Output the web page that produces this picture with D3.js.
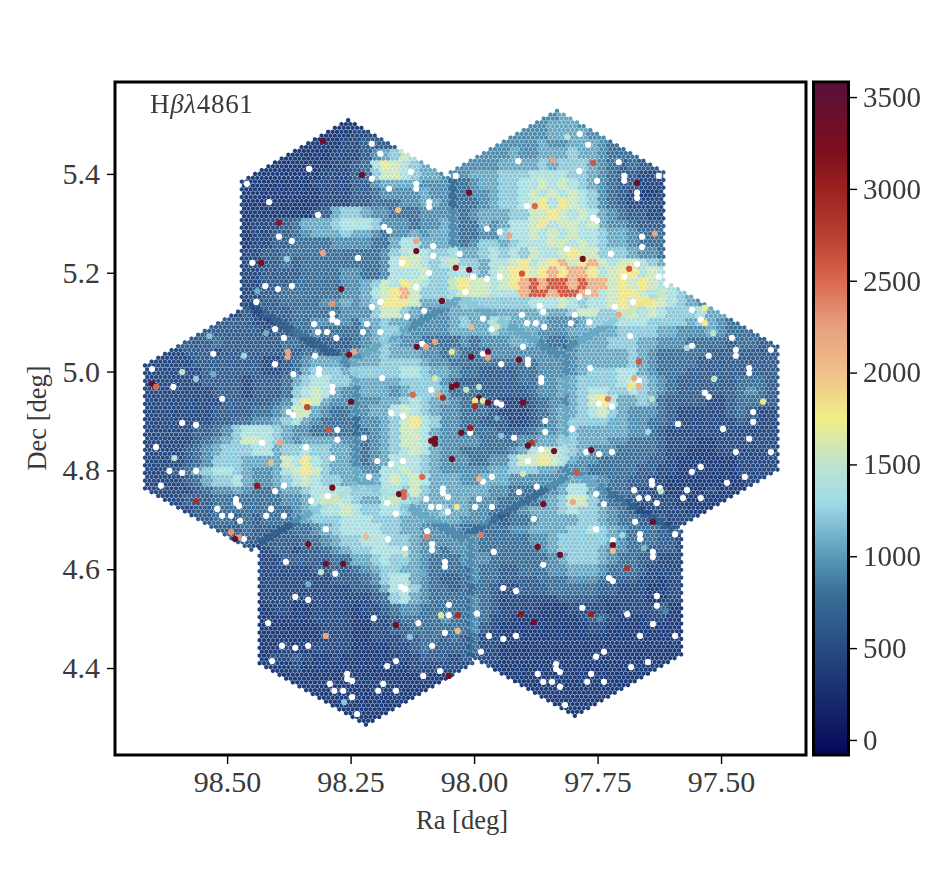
<!DOCTYPE html>
<html>
<head>
<meta charset="utf-8">
<script src="https://d3js.org/d3.v7.min.js"></script>
<style>
  html, body { margin: 0; padding: 0; background: #fff; overflow: hidden; }
  text { font-family: "Liberation Serif", serif; fill: #3a3a3a; }
</style>
</head>
<body>
<svg id="chart" width="942" height="892"></svg>
<script>
// Tile pointings of the mosaic (deg)
var tileRa = [98.255, 97.832, 98.451, 98.026, 97.601, 98.219, 97.796];
var tileDec = [5.260, 5.279, 4.888, 4.906, 4.926, 4.534, 4.552];

// Flux on a 0.02 deg grid, one digit per cell (see levelValues)
var gridRaStart = 98.68;
var gridDecStart = 5.52;
var gridStep = 0.02;
var levelValues = [370, 490, 640, 790, 930, 1060, 1210, 1370, 1560, 1800, 2150, 2600];
var fluxRows = [
".......... .......... .......... .......... ..45",
".......... .......... 000....... .......... 445554",
".......... ........00 00111..... ........44 44555544",
".......... .......000 0112222... ......4444 4544555433",
".......... .....00000 111245687. ....444454 4555655433 3",
".......... ...0000000 1123798765 ...4444555 5656665432 32",
".......... ..00000001 1123688765 5444555666 7777665432 2112",
".......... 1000000011 1122455554 4433455667 7878765432 2111",
".......... 1000000001 1122344445 4433445667 8787876432 1001",
".......... 1000000001 1122333445 5433345667 8979876432 1111",
".......... 1000000012 5665443334 4443455566 8898787543 2211",
".......... 1011123555 6777644434 4543354577 8978878544 3222",
".......... 1011223455 5655434454 5543344677 8787877655 4333",
".......... 1011223333 4444335775 5543466567 7788787655 4333",
".......... 1112233333 3333346787 6675567676 8778988666 5443",
".......... 1112232333 3333347987 6786657789 789a89a878 8765",
".......... 1112222333 3443347778 6677657899 89a9aa9789 9787",
".......... 1112223333 3445687987 668988789a babbabaa89 898776",
".......... 1112233333 3445789a86 667888777a bbabbaa789 9878765",
".......... 1122233334 4545699985 5556666666 7778767789 89987654",
".......... 1212223333 3444688654 4455555555 5655688668 878766675",
".........2 2211223344 4435565544 4456557655 5544456667 7766665654 3",
".......222 2221223343 3334566544 4455556555 5444555556 6665544454 333",
".....22232 2222233222 2234565443 3334344455 5433455566 6554443333 23322",
"...1122212 2222222332 2345565554 4343334444 4444455555 6543333322 22222",
"..11112222 2221123455 5455566665 4433333333 3444455555 6543333222 22222",
".111111222 2221123566 6566666776 5543322223 3444456667 7543332222 22222",
".111111222 2122235677 6655555666 6432222223 3445566667 8654322222 23332",
".111111122 2122236787 5445554566 6533322222 3445567766 7654322222 23432",
".111111112 2222347985 4444455676 5543332111 2344568975 5653222211 23332",
".111111122 2233458854 3344557876 5443332111 2345567865 4443211111 23211",
".111111122 3344567543 3334456897 6443322211 2345666655 4433211111 12111",
".111112234 6777654433 3333456887 5443333222 3445655555 4432111111 11111",
".111112345 6887654555 5443456887 5444433334 4556655544 3332111001 11111",
".111123456 6677566766 5543456787 5443333345 7887654443 3332110001 11111",
".111123466 6555587976 5543457776 5444334468 8987544333 3322100000 01111",
".111235677 6544578986 5554477876 5444445566 6554443333 3221100000 01111",
".111123566 7544567876 6555578787 5554455544 4444555433 2211000000 0011",
".111112344 5433455677 7766677686 5555554433 3345775433 2111000010 00",
"..11122233 3333344578 8765578765 5555444333 3456886433 2111100000 0",
"....112233 3333334567 7876677655 5655443334 5556766543 211111000.",
"......2233 2323334566 6777666555 5554443233 4555566543 3222111",
"........22 2322223345 6777766554 4443333344 5555667654 333222",
".........2 2222222334 5667776654 4444433333 4456666654 333221",
".......... 2211221223 4566777654 4344433333 3456666544 332221",
".......... ..11122222 3355676654 3334443333 3345666543 322111",
".......... ..11111122 2234566554 3333433223 3344555433 321111",
".......... ..11111111 2223467754 3223433222 2333444322 211011",
".......... ..01111111 1122357864 3323332112 2233333221 110011",
".......... ..01110111 1111236754 3333432111 1112222111 110011",
".......... ..00110011 1101123443 3333432111 1000111101 111200",
".......... ..00000011 1100112333 3433431100 0000012210 001100",
".......... ..00000001 1100112233 3333421000 0000001100 000000",
".......... ..00000001 1100111223 3232311000 0000000000 000000",
".......... ..00010011 1100001123 2222311000 0000000000 000000",
".......... ..00112100 1000000112 2212211000 0000000000 000000",
".......... ...0001000 0000000011 1111..0000 0000000000 000",
".......... .....00000 0000000000 00.....000 0000000000 00",
".......... .......000 0000000000 0........0 0000000000",
".......... ........00 00000000.. .......... .0000000",
".......... .......... 0000000... .......... ...0000",
".......... .......... ..000..... .......... ....0",
".......... .......... ...0"
];

// Empty spaxels [ra, dec]
var holes = [
[97.786,5.481],[97.769,5.459],[97.911,5.426],[97.707,5.424],[97.787,5.406],[97.751,5.386],[97.696,5.396],[97.696,5.386],[97.626,5.396],[97.670,5.362],[97.670,5.351],[97.893,5.335],[97.759,5.311],[97.751,5.305],[97.974,5.289],[97.948,5.283],[97.660,5.273],[97.660,5.252],[97.812,5.248],[97.723,5.238],[97.670,5.218],[97.948,5.192],[97.974,5.188],[97.696,5.192],[97.626,5.192],[97.769,5.161],[97.787,5.151],[97.867,5.133],[97.860,5.121],[97.678,5.141],[97.715,5.131],[97.903,5.115],[97.796,5.115],[97.559,5.125],
[98.207,5.461],[98.190,5.441],[98.334,5.410],[98.460,5.380],[98.415,5.343],[98.207,5.390],[98.172,5.370],[98.128,5.404],[98.117,5.380],[98.117,5.370],[98.091,5.343],[98.091,5.333],[98.037,5.396],[98.316,5.317],[98.182,5.293],[98.172,5.285],[98.395,5.273],[98.369,5.264],[98.083,5.254],[98.083,5.234],[98.029,5.238],[98.235,5.230],[98.146,5.220],[98.449,5.220],[98.091,5.200],[98.002,5.192],[98.423,5.173],[98.397,5.167],[98.369,5.173],[98.117,5.171],[98.018,5.161],[98.441,5.141],[98.190,5.141],[98.207,5.131],[98.101,5.123],[98.287,5.117],[98.136,5.111],
[98.287,5.105],[98.277,5.100],[98.324,5.096],[98.403,5.086],[98.385,5.068],[98.316,5.080],[98.298,5.080],[98.279,5.068],[98.528,5.036],[98.322,5.032],[98.652,5.005],[98.403,5.015],[98.366,4.995],[98.314,5.005],[98.314,4.995],[98.609,4.969],[98.287,4.969],[98.287,4.959],[98.510,4.945],[98.375,4.918],[98.366,4.912],[98.591,4.896],[98.563,4.892],[98.277,4.882],[98.277,4.862],[98.429,4.856],[98.644,4.847],[98.340,4.847],[98.287,4.825],[98.617,4.799],[98.591,4.795],[98.563,4.799],[98.634,4.769],[98.385,4.769],[98.403,4.758],[98.296,4.748],[98.330,4.738],[98.482,4.742],[98.482,4.734],[98.476,4.728],[98.520,4.722],[98.411,4.722],[98.510,4.708],[98.492,4.708],[98.421,4.708],[98.385,4.708],[98.474,4.698],[98.300,4.681],
[98.217,5.096],[98.225,5.080],[98.190,5.080],[97.982,5.107],[97.964,5.086],[97.893,5.098],[97.875,5.098],[97.858,5.090],[97.804,5.098],[97.901,5.050],[98.105,5.056],[97.982,5.036],[97.945,5.015],[97.891,5.024],[97.891,5.015],[98.186,4.987],[97.864,4.987],[97.864,4.979],[98.087,4.963],[97.954,4.937],[97.945,4.933],[98.168,4.916],[98.144,4.910],[97.856,4.900],[97.802,4.884],[97.856,4.878],[98.008,4.876],[98.223,4.866],[97.919,4.866],[97.864,4.843],[98.196,4.819],[98.144,4.819],[98.168,4.813],[97.891,4.819],[98.213,4.787],[97.964,4.787],[97.982,4.777],[98.063,4.763],[98.063,4.754],[98.053,4.746],[97.909,4.756],[97.873,4.767],[98.176,4.734],[98.097,4.742],[97.990,4.742],[98.087,4.726],[98.071,4.726],[97.998,4.726],[97.964,4.726],[98.053,4.716],[98.158,4.712],[97.879,4.702],
[97.541,5.105],[97.767,5.100],[97.684,5.072],[97.478,5.068],[97.559,5.052],[97.399,5.044],[97.470,5.044],[97.470,5.032],[97.525,5.032],[97.443,5.007],[97.443,4.997],[97.765,5.007],[97.666,4.981],[97.533,4.957],[97.525,4.949],[97.747,4.935],[97.721,4.929],[97.435,4.918],[97.435,4.898],[97.587,4.894],[97.496,4.884],[97.443,4.864],[97.470,4.837],[97.399,4.837],[97.773,4.837],[97.747,4.833],[97.721,4.837],[97.541,4.807],[97.559,4.797],[97.452,4.787],[97.488,4.775],[97.640,4.779],[97.640,4.771],[97.624,4.764],[97.569,4.760],[97.676,4.760],[97.753,4.752],[97.666,4.744],[97.648,4.744],[97.577,4.744],[97.541,4.744],[97.737,4.732],[97.630,4.734],[97.674,4.696],
[98.466,4.661],[98.174,4.661],[98.095,4.677],[98.085,4.651],[98.085,4.639],[98.140,4.641],[98.381,4.615],[98.059,4.615],[98.059,4.605],[98.281,4.591],[98.148,4.564],[98.140,4.560],[98.362,4.544],[98.336,4.538],[98.051,4.528],[97.994,4.510],[98.051,4.507],[98.203,4.501],[98.113,4.491],[98.417,4.491],[98.059,4.471],[98.389,4.445],[98.362,4.441],[98.336,4.445],[98.085,4.445],[98.409,4.414],[98.158,4.414],[98.176,4.404],[98.103,4.384],[98.069,4.394],[98.257,4.388],[98.257,4.378],[98.247,4.374],[98.292,4.368],[98.184,4.368],[98.283,4.354],[98.265,4.354],[98.194,4.354],[98.158,4.354],[98.247,4.341],[98.237,4.307],
[97.753,4.681],[97.593,4.671],[97.664,4.671],[97.664,4.661],[97.719,4.659],[97.960,4.635],[97.638,4.635],[97.638,4.625],[97.860,4.609],[97.727,4.582],[97.719,4.576],[97.941,4.562],[97.915,4.556],[97.630,4.546],[97.630,4.526],[97.781,4.522],[97.690,4.509],[97.638,4.489],[97.970,4.465],[97.941,4.459],[97.915,4.465],[97.664,4.465],[97.593,4.465],[97.986,4.433],[97.737,4.433],[97.753,4.423],[97.648,4.412],[97.682,4.402],[97.834,4.408],[97.834,4.398],[97.826,4.392],[97.871,4.388],[97.763,4.388],[97.860,4.372],[97.842,4.372],[97.771,4.372],[97.737,4.372],[97.826,4.362],[97.816,4.325]
];

// Bright isolated spaxels [ra, dec, flux]
var spots = [
[97.812,5.475,1500],[97.840,5.428,2200],[97.759,5.422,2600],[97.670,5.382,3400],[97.877,5.335,2500],[97.634,5.279,2200],[97.780,5.228,3300],[97.686,5.208,2600],[97.903,5.198,2600],[97.707,5.115,2200],[97.929,5.275,2200],
[98.306,5.467,3300],[98.227,5.398,3400],[98.010,5.362,3300],[98.154,5.327,2000],[98.395,5.301,3100],[98.117,5.264,2200],[98.117,5.244,3400],[98.306,5.240,2200],[98.379,5.228,1250],[98.431,5.220,3200],[98.037,5.210,3100],[98.010,5.206,3300],[98.269,5.167,3200],[98.287,5.137,2300],[98.065,5.143,3300],[98.439,5.163,1100],
[98.536,5.072,1200],[98.421,5.078,1100],[98.377,5.040,2200],[98.377,5.030,2200],[98.243,5.040,2200],[98.253,5.034,3300],[98.466,5.032,1300],[98.591,4.999,1500],[98.563,4.985,1250],[98.528,4.995,1100],[98.652,4.975,3400],[98.644,4.969,2500],[98.249,4.939,3400],[98.338,4.928,2700],[98.294,4.882,2600],[98.393,4.856,2200],[98.607,4.825,1500],[98.411,4.815,2050],[98.439,4.769,3100],[98.287,4.765,3200],[98.563,4.738,2900],[98.492,4.675,2300],[98.476,4.665,2300],[98.484,4.661,3400],
[98.116,5.050,3400],[98.097,5.050,2200],[98.079,5.060,2200],[98.006,5.090,2050],[97.954,5.090,1600],[98.045,5.040,1800],[97.972,5.040,3400],[97.972,5.028,2200],[98.006,5.030,3400],[97.909,5.024,3300],[98.079,4.987,1600],[98.045,4.969,3300],[98.035,4.973,3300],[98.016,4.963,1550],[97.990,4.969,1500],[98.124,4.953,2500],[98.071,4.953,2200],[98.063,4.947,2900],[97.990,4.947,3400],[97.998,4.941,1800],[97.982,4.941,1650],[97.998,4.930,2900],[97.972,4.937,3400],[97.901,4.937,3300],[98.008,4.886,3000],[98.026,4.876,3300],[98.079,4.864,3300],[98.087,4.860,3300],[98.079,4.854,3300],[97.883,4.856,2800],[97.891,4.850,3400],[97.838,4.839,3400],[98.045,4.823,3300],[97.792,4.795,2600],[98.105,4.787,2500],[97.990,4.783,2100],[97.901,4.793,1600],[98.152,4.752,3400],[98.142,4.756,2500],[98.142,4.746,2500],[97.860,4.732,3300],[97.800,4.736,2200],[98.035,4.726,1700],[97.945,4.870,1200],[97.954,4.906,1100],
[97.533,5.129,1750],[97.533,5.098,1750],[97.516,5.078,1500],[97.569,5.048,1400],[97.666,5.020,2600],[97.676,4.987,2200],[97.514,4.985,1550],[97.666,4.971,2100],[97.684,4.969,1800],[97.729,4.945,2400],[97.640,4.945,1500],[97.415,4.939,1800],[97.648,4.878,1300],[97.763,4.841,3400],[97.622,4.758,1550],[97.638,4.696,3400],
[98.219,4.665,2050],[98.095,4.665,2400],[98.336,4.651,3300],[98.300,4.611,3300],[98.265,4.611,3300],[98.140,4.631,1550],[98.310,4.594,1500],[98.336,4.570,1100],[98.103,4.591,1100],[98.067,4.507,1650],[98.033,4.507,2900],[98.158,4.487,3300],[98.033,4.475,2050],[98.300,4.465,2200],[98.130,4.463,1200],[98.051,4.384,3200],[98.263,4.331,1200],
[97.986,4.669,2400],[97.871,4.645,3200],[97.826,4.629,3300],[97.719,4.649,3300],[97.719,4.637,2050],[97.690,4.602,2800],[97.700,4.669,1300],[97.656,4.643,1150],[97.905,4.509,3100],[97.879,4.493,3300],[97.763,4.509,3000],[97.745,4.499,950],[97.611,4.516,900]
];

// Colour map stops
var cmapValues = [-82, 0, 500, 800, 1000, 1300, 1500, 1750, 2000, 2250, 2500, 2750, 3000, 3200, 3582];
var cmapColors = ["#07075a", "#0b115f", "#264b82", "#3b6f98", "#5a9ab8", "#a0dbe8", "#bde3cf", "#f1ee86", "#eec08a", "#e8a080", "#d9684e", "#b83f30", "#9c2220", "#7e0f1e", "#57103a"];

var raTicks = [98.5, 98.25, 98.0, 97.75, 97.5];
var decTicks = [4.4, 4.6, 4.8, 5.0, 5.2, 5.4];
var fluxTicks = [0, 500, 1000, 1500, 2000, 2500, 3000, 3500];

var svg = d3.select("#chart");

var xScale = d3.scaleLinear().domain([98.727, 97.328]).range([115, 806]);
var yScale = d3.scaleLinear().domain([4.224, 5.586]).range([755, 82]);
var cbarScale = d3.scaleLinear().domain([-82, 3582]).range([755, 82]);
var colorScale = d3.scaleLinear().domain(cmapValues).range(cmapColors).clamp(true);

var grid = fluxRows.map(function(r) { return r.replace(/ /g, ""); });

// Value of the grid cell holding a position, or the closest filled cell on the tile rim
function cellValue(ra, dec) {
  var col = Math.round((gridRaStart - ra) / gridStep);
  var row = Math.round((gridDecStart - dec) / gridStep);
  for (var rad = 0; rad < 5; rad++) {
    for (var dr = -rad; dr <= rad; dr++) {
      for (var dc = -rad; dc <= rad; dc++) {
        var line = grid[row + dr];
        var ch = line ? line.charAt(col + dc) : "";
        if (ch && ch !== ".") return levelValues[parseInt(ch, 36)];
      }
    }
  }
  return levelValues[1];
}

// Spaxels of one tile: hexagonal lattice inside the hexagonal footprint
var pitch = 0.00897;
var rowPitch = pitch * Math.sqrt(3) / 2;
var tileR = 0.2515;
var tileHalfW = tileR * Math.sqrt(3) / 2;

var spaxels = [];
tileRa.forEach(function(ra0, t) {
  var dec0 = tileDec[t];
  var nRow = Math.ceil(tileR / rowPitch);
  var nCol = Math.ceil(tileHalfW / pitch);
  d3.range(-nRow, nRow + 1).forEach(function(r) {
    var shift = Math.abs(r % 2) * pitch / 2;
    d3.range(-nCol, nCol + 1).forEach(function(c) {
      var dx = c * pitch + shift;
      var dy = r * rowPitch;
      if (Math.abs(dx) > tileHalfW) return;
      if (Math.abs(dy) + Math.abs(dx) * 0.57735 > tileR) return;
      var ra = ra0 + dx;
      var dec = dec0 + dy;
      spaxels.push({ ra: ra, dec: dec, value: cellValue(ra, dec) });
    });
  });
});

var hexR = 2.38;
var hexPath = d3.range(6).map(function(i) {
  var a = Math.PI / 3 * i + Math.PI / 6;
  return (i ? "L" : "M") + (hexR * Math.cos(a)).toFixed(2) + "," + (hexR * Math.sin(a)).toFixed(2);
}).join("") + "Z";

// The reference is a soft raster, so the map gets a light blur
var defs = svg.append("defs");
defs.append("filter").attr("id", "soft")
  .attr("x", "-2%").attr("y", "-2%").attr("width", "104%").attr("height", "104%")
  .append("feGaussianBlur").attr("stdDeviation", 0.55);

var map = svg.append("g").attr("class", "map").attr("filter", "url(#soft)");

map.append("g").attr("class", "spaxels")
  .selectAll("path")
  .data(spaxels)
  .enter().append("path")
  .attr("d", hexPath)
  .attr("transform", function(d) { return "translate(" + xScale(d.ra).toFixed(2) + "," + yScale(d.dec).toFixed(2) + ")"; })
  .attr("fill", function(d) { return colorScale(d.value); });

map.append("g").attr("class", "holes")
  .selectAll("circle")
  .data(holes)
  .enter().append("circle")
  .attr("cx", function(d) { return xScale(d[0]); })
  .attr("cy", function(d) { return yScale(d[1]); })
  .attr("r", 3.1)
  .attr("fill", "#fff");

map.append("g").attr("class", "spots")
  .selectAll("circle")
  .data(spots)
  .enter().append("circle")
  .attr("cx", function(d) { return xScale(d[0]); })
  .attr("cy", function(d) { return yScale(d[1]); })
  .attr("r", 3.1)
  .attr("fill", function(d) { return colorScale(d[2]); });

// Axes
var xAxis = d3.axisBottom(xScale).tickValues(raTicks).tickFormat(d3.format(".2f")).tickSizeOuter(0).tickSize(9).tickPadding(7);
var yAxis = d3.axisLeft(yScale).tickValues(decTicks).tickFormat(d3.format(".1f")).tickSizeOuter(0).tickSize(8).tickPadding(7);

var gx = svg.append("g").attr("transform", "translate(0,755)").call(xAxis);
var gy = svg.append("g").attr("transform", "translate(115,0)").call(yAxis);

svg.append("rect")
  .attr("x", 115).attr("y", 82).attr("width", 691).attr("height", 673)
  .attr("fill", "none").attr("stroke", "#000").attr("stroke-width", 3);

// Colour bar
var grad = defs.append("linearGradient").attr("id", "cbar")
  .attr("x1", 0).attr("y1", 1).attr("x2", 0).attr("y2", 0);
grad.selectAll("stop").data(cmapValues).enter().append("stop")
  .attr("offset", function(d) { return (d - cmapValues[0]) / (cmapValues[cmapValues.length - 1] - cmapValues[0]); })
  .attr("stop-color", function(d, i) { return cmapColors[i]; });

svg.append("rect")
  .attr("x", 813.5).attr("y", 82).attr("width", 35).attr("height", 673)
  .attr("fill", "url(#cbar)").attr("stroke", "#000").attr("stroke-width", 3);

var cbarAxis = d3.axisRight(cbarScale).tickValues(fluxTicks).tickFormat(d3.format("d")).tickSizeOuter(0).tickSize(8).tickPadding(6);
var gc = svg.append("g").attr("transform", "translate(849,0)").call(cbarAxis);

[gx, gy, gc].forEach(function(g) {
  g.select(".domain").remove();
  g.selectAll(".tick line").attr("stroke", "#000").attr("stroke-width", 1.4);
  g.selectAll(".tick text").style("font-size", "30px").attr("fill", "#3a3a3a");
});
gc.selectAll(".tick text").style("font-size", "29px");

// Labels
svg.append("text")
  .attr("x", 462).attr("y", 829).attr("text-anchor", "middle")
  .style("font-size", "26.5px").attr("fill", "#555").text("Ra [deg]");

svg.append("text")
  .attr("transform", "translate(46,418) rotate(-90)").attr("text-anchor", "middle")
  .style("font-size", "26.5px").attr("fill", "#555").text("Dec [deg]");

var title = svg.append("text").attr("x", 150).attr("y", 113).style("font-size", "27px").style("letter-spacing", "0.7px").attr("fill", "#555");
title.append("tspan").text("H");
title.append("tspan").style("font-style", "italic").text("βλ");
title.append("tspan").text("4861");
</script>
</body>
</html>
